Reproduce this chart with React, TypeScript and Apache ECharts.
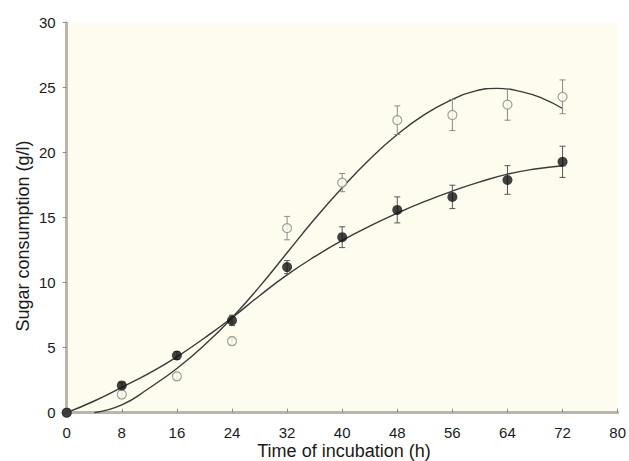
import React, { useEffect, useRef } from "react";
import * as echarts from "echarts";

// Sampling times (h)
const times = [0, 8, 16, 24, 32, 40, 48, 56, 64, 72];
// Filled circles: mean and error
const filledMean = [0, 2.1, 4.4, 7.1, 11.2, 13.5, 15.6, 16.6, 17.9, 19.3];
const filledErr = [0, 0.2, 0.3, 0.4, 0.5, 0.8, 1.0, 0.9, 1.1, 1.2];
// Open circles: mean and error
const openMean = [0, 1.4, 2.8, 5.5, 14.2, 17.7, 22.5, 22.9, 23.7, 24.3];
const openErr = [0, 0.3, 0.3, 0.3, 0.9, 0.7, 1.1, 1.2, 1.2, 1.3];

// Fitted curves
const filledCurveTimes = [0, 4, 8, 12, 16, 20, 24, 28, 32, 36, 40, 44, 48, 52, 56, 60, 64, 68, 72];
const filledCurve = [0, 0.9, 1.95, 3.05, 4.3, 5.75, 7.3, 9.0, 10.6, 12.0, 13.25, 14.35, 15.35, 16.25, 17.05, 17.75, 18.35, 18.75, 19.0];
const openCurveTimes = [4, 8, 12, 16, 20, 24, 28, 32, 36, 40, 44, 48, 52, 56, 59, 62.5, 66, 69, 72];
const openCurve = [0, 0.6, 1.9, 3.4, 5.2, 7.3, 9.7, 12.3, 14.9, 17.3, 19.5, 21.4, 22.95, 24.1, 24.7, 24.95, 24.7, 24.2, 23.4];

const xTicks = { min: 0, max: 80, interval: 8 };
const yTicks = { min: 0, max: 30, interval: 5 };

const FONT = "'Liberation Sans', Arial, Helvetica, sans-serif";

function errorBarSeries(means: number[], errs: number[], color: string) {
  return {
    type: "custom",
    data: times.map((t, i) => [t, means[i] - errs[i], means[i] + errs[i]]),
    clip: false,
    z: 3,
    renderItem: (params: any, api: any) => {
      const x = api.value(0);
      const lo = api.coord([x, api.value(1)]);
      const hi = api.coord([x, api.value(2)]);
      const w = 3;
      const style = { stroke: color, lineWidth: 1 };
      return {
        type: "group",
        children: [
          { type: "line", shape: { x1: lo[0], y1: lo[1], x2: hi[0], y2: hi[1] }, style },
          { type: "line", shape: { x1: lo[0] - w, y1: lo[1], x2: lo[0] + w, y2: lo[1] }, style },
          { type: "line", shape: { x1: hi[0] - w, y1: hi[1], x2: hi[0] + w, y2: hi[1] }, style },
        ],
      };
    },
  };
}

export default function App() {
  const ref = useRef<HTMLDivElement>(null);
  useEffect(() => {
    if (!ref.current) return;
    const chart = echarts.init(ref.current, null, { renderer: "svg" });
    chart.setOption({
      animation: false,
      backgroundColor: "#ffffff",
      textStyle: { fontFamily: FONT },
      grid: {
        left: 66.7,
        right: 8.3,
        top: 22.7,
        bottom: 48.3,
        show: true,
        backgroundColor: "#fdfcee",
        borderWidth: 0,
      },
      xAxis: {
        type: "value",
        min: xTicks.min,
        max: xTicks.max,
        interval: xTicks.interval,
        axisLine: { show: true, onZero: false, lineStyle: { color: "#b8b6ad", width: 3 } },
        axisTick: { show: true, inside: true, length: 4, lineStyle: { color: "#8f8d86", width: 1 } },
        axisLabel: { color: "#1a1a1a", fontSize: 15, margin: 12, fontFamily: FONT },
        splitLine: { show: false },
      },
      yAxis: {
        type: "value",
        min: yTicks.min,
        max: yTicks.max,
        interval: yTicks.interval,
        axisLine: { show: true, onZero: false, lineStyle: { color: "#b8b6ad", width: 3 } },
        axisTick: { show: true, inside: false, length: 4, lineStyle: { color: "#8f8d86", width: 1 } },
        axisLabel: { color: "#1a1a1a", fontSize: 15, margin: 11, fontFamily: FONT },
        splitLine: { show: false },
      },
      graphic: [
        {
          type: "text",
          x: 344,
          y: 451,
          style: {
            text: "Time of incubation (h)",
            fontSize: 18,
            fontFamily: FONT,
            fill: "#1a1a1a",
            align: "center",
            verticalAlign: "middle",
          },
        },
        {
          type: "text",
          x: 23,
          y: 236,
          rotation: Math.PI / 2,
          style: {
            text: "Sugar consumption (g/l)",
            fontSize: 18,
            fontFamily: FONT,
            fill: "#1a1a1a",
            align: "center",
            verticalAlign: "middle",
          },
        },
      ],
      series: [
        {
          type: "line",
          data: filledCurveTimes.map((t, i) => [t, filledCurve[i]]),
          smooth: true,
          symbol: "none",
          lineStyle: { color: "#3a3a3a", width: 1.4 },
          z: 2,
        },
        {
          type: "line",
          data: openCurveTimes.map((t, i) => [t, openCurve[i]]),
          smooth: true,
          symbol: "none",
          lineStyle: { color: "#3a3a3a", width: 1.4 },
          z: 2,
        },
        errorBarSeries(openMean, openErr, "#8a8a8a"),
        errorBarSeries(filledMean, filledErr, "#555555"),
        {
          type: "scatter",
          data: times.map((t, i) => [t, openMean[i]]),
          symbol: "circle",
          symbolSize: 9,
          clip: false,
          itemStyle: { color: "#fdfcee", borderColor: "#8a8a8a", borderWidth: 1.2 },
          z: 4,
        },
        {
          type: "scatter",
          data: times.map((t, i) => [t, filledMean[i]]),
          symbol: "circle",
          symbolSize: 10,
          clip: false,
          itemStyle: { color: "#111111" },
          z: 5,
        },
      ],
    });
    return () => chart.dispose();
  }, []);
  return (
    <div
      ref={ref}
      style={{ position: "absolute", left: 0, top: 0, width: 629, height: 461 }}
    />
  );
}
